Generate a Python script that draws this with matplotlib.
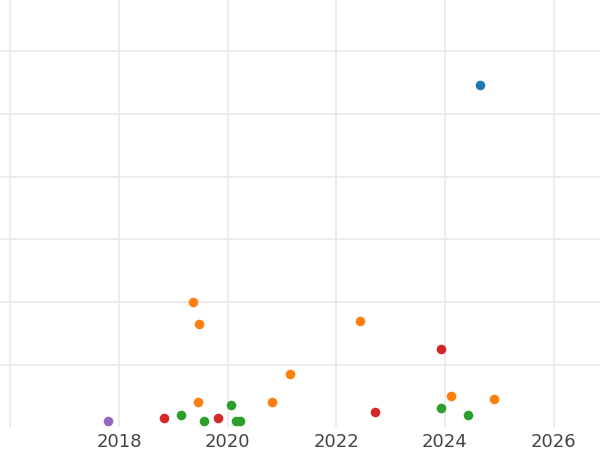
import numpy as np
import matplotlib
matplotlib.use("Agg")
import matplotlib.pyplot as plt

# (year, value) per group
blue_x = [2024.65]
blue_y = [5.46]
orange_x = [2019.36, 2019.48, 2019.45, 2020.82, 2021.15, 2022.44, 2024.11, 2024.90]
orange_y = [2.00, 1.65, 0.41, 0.41, 0.85, 1.70, 0.50, 0.45]
green_x = [2019.15, 2019.57, 2020.07, 2020.15, 2020.23, 2023.93, 2024.43]
green_y = [0.20, 0.10, 0.35, 0.10, 0.10, 0.31, 0.20]
red_x = [2018.82, 2019.82, 2022.72, 2023.93]
red_y = [0.155, 0.155, 0.25, 1.25]
purple_x = [2017.80]
purple_y = [0.10]

xticks = [2018, 2020, 2022, 2024, 2026]

fig = plt.figure(figsize=(6, 4.5), dpi=100)
ax = fig.add_axes([0, 0.0502, 1, 0.9498])

groups = [
    (blue_x, blue_y, '#1f77b4'),
    (orange_x, orange_y, '#ff7f0e'),
    (green_x, green_y, '#2ca02c'),
    (red_x, red_y, '#d62728'),
    (purple_x, purple_y, '#9467bd'),
]
for xs, ys, c in groups:
    ax.scatter(xs, ys, s=48, color=c, linewidths=0, zorder=3, clip_on=False)

ax.set_xlim(2015.81, 2026.854)
ax.set_ylim(0, 6.816)
ax.set_xticks([2016] + xticks)
ax.set_xticklabels([''] + [str(t) for t in xticks])
ax.set_yticks([1, 2, 3, 4, 5, 6])
ax.set_yticklabels([])
ax.grid(True, color='#ebebeb', linewidth=1.3)
ax.set_axisbelow(True)
ax.tick_params(axis='both', length=0, labelsize=13, labelcolor='#444444', pad=4)
for s in ax.spines.values():
    s.set_visible(False)

fig.savefig("out.png", dpi=100)
